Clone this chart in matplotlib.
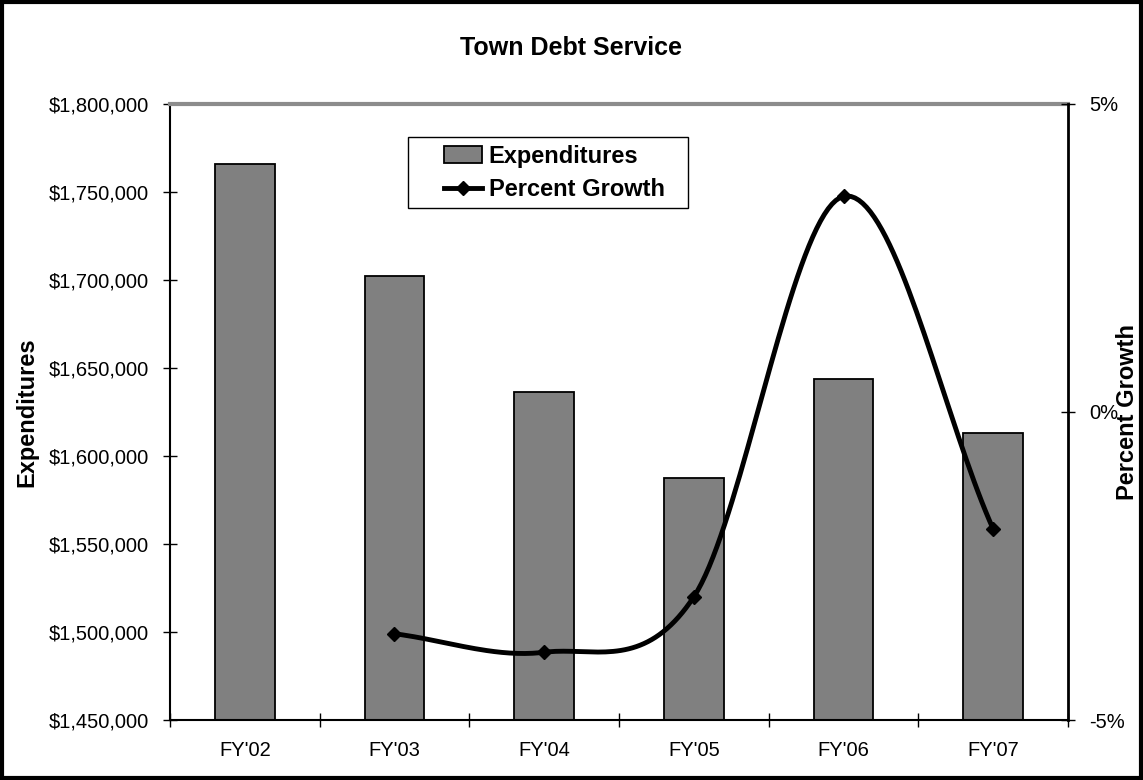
import numpy as np
import matplotlib
matplotlib.use('Agg')
import matplotlib.pyplot as plt
from matplotlib.patches import Rectangle, Patch
from matplotlib.lines import Line2D
from matplotlib.ticker import FuncFormatter

plt.rcParams['font.family'] = ['Liberation Sans', 'DejaVu Sans']

years = ["FY'02", "FY'03", "FY'04", "FY'05", "FY'06", "FY'07"]
expenditures = [1766000, 1702500, 1636500, 1587500, 1643500, 1613000]
growth_years = ["FY'03", "FY'04", "FY'05", "FY'06", "FY'07"]
growth_pct = [-3.6, -3.9, -3.0, 3.5, -1.9]


def smooth(x, y, n=40):
    # Catmull-Rom style curve, like Excel's smoothed line
    x = np.asarray(x, float); y = np.asarray(y, float)
    px = np.concatenate([[2*x[0]-x[1]], x, [2*x[-1]-x[-2]]])
    py = np.concatenate([[2*y[0]-y[1]], y, [2*y[-1]-y[-2]]])
    xs, ys = [], []
    t = np.linspace(0, 1, n)
    for i in range(1, len(px)-2):
        p0, p1, p2, p3 = [np.array([px[k], py[k]]) for k in (i-1, i, i+1, i+2)]
        c1 = p1 + (p2-p0)/6
        c2 = p2 - (p3-p1)/6
        pts = ((1-t)**3)[:, None]*p1 + (3*(1-t)**2*t)[:, None]*c1 + (3*(1-t)*t**2)[:, None]*c2 + (t**3)[:, None]*p2
        xs.extend(pts[:, 0]); ys.extend(pts[:, 1])
    return np.array(xs), np.array(ys)


fig = plt.figure(figsize=(11.43, 7.8), dpi=100)
fig.patches.append(Rectangle((0.002, 0.003), 0.996, 0.994, transform=fig.transFigure,
                             fill=False, ec='black', lw=3))
ax = fig.add_axes([0.1487, 0.0769, 0.7857, 0.7898])
xi = np.arange(len(years))
ax.bar(xi, expenditures, width=0.4, color='#808080', edgecolor='black', lw=1.3,
       label='Expenditures', zorder=2)
ax.set_xlim(-0.5, len(years)-0.5)
ax.set_ylim(1450000, 1800000)
ax.set_yticks(np.arange(1450000, 1800001, 50000))
ax.yaxis.set_major_formatter(FuncFormatter(lambda v, p: f'${v:,.0f}'))
ax.set_xticks(np.arange(-0.5, len(years), 1.0))
ax.set_xticklabels([])
ax.set_xticks(xi, minor=True)
ax.set_xticklabels(years, minor=True)
ax.tick_params(axis='x', which='minor', length=0, pad=15, labelsize=14.5)
ax.tick_params(axis='x', which='major', direction='inout', length=10, width=1)
ax.tick_params(axis='y', direction='inout', length=10, width=1, labelsize=14.5, pad=10)
for s in ('left', 'bottom'):
    ax.spines[s].set_linewidth(1.5)
ax.spines['top'].set_color('#8c8c8c'); ax.spines['top'].set_linewidth(3)
ax.spines['right'].set_visible(False)
ax.set_ylabel('Expenditures', fontsize=17, fontweight='bold')
ax.yaxis.set_label_coords(-0.147, 0.5)

ax2 = ax.twinx()
gx = [years.index(g) for g in growth_years]
sx, sy = smooth(gx, growth_pct)
ax2.plot(sx, sy, color='black', lw=3.5, zorder=3)
ax2.plot(gx, growth_pct, ls='none', marker='D', ms=7, color='black', zorder=4)
ax2.set_ylim(-5, 5)
ax2.set_yticks([-5, 0, 5])
ax2.yaxis.set_major_formatter(FuncFormatter(lambda v, p: f'{v:.0f}%'))
ax2.tick_params(axis='y', direction='inout', length=10, width=1, labelsize=14.5, pad=10)
ax2.spines['right'].set_linewidth(2)
ax2.spines['top'].set_visible(False)
ax2.spines['left'].set_visible(False)
ax2.spines['bottom'].set_visible(False)
ax2.set_ylabel('Percent Growth', fontsize=17, fontweight='bold')
ax2.yaxis.set_label_coords(1.053, 0.5)

# legend box drawn separately so its padding matches
fig.patches.append(Rectangle((408/1143, 1-208/780), 280/1143, 71/780, transform=fig.transFigure,
                             fill=True, fc='white', ec='black', lw=1, zorder=5))
handles = [Patch(facecolor='#808080', edgecolor='black', lw=1.3),
           Line2D([], [], color='black', lw=3.5, marker='D', ms=7)]
leg = fig.legend(handles, ['Expenditures', 'Percent Growth'], loc='center left',
                 bbox_to_anchor=(432/1143, 1-173/780), frameon=False,
                 prop={'weight': 'bold', 'size': 17}, handlelength=1.6,
                 handletextpad=0.3, borderpad=0.0, labelspacing=0.45)
leg.set_zorder(6)

fig.text(0.5, 1-48/780, 'Town Debt Service', ha='center', va='center',
         fontsize=18, fontweight='bold')

fig.savefig('out.png', dpi=100)
